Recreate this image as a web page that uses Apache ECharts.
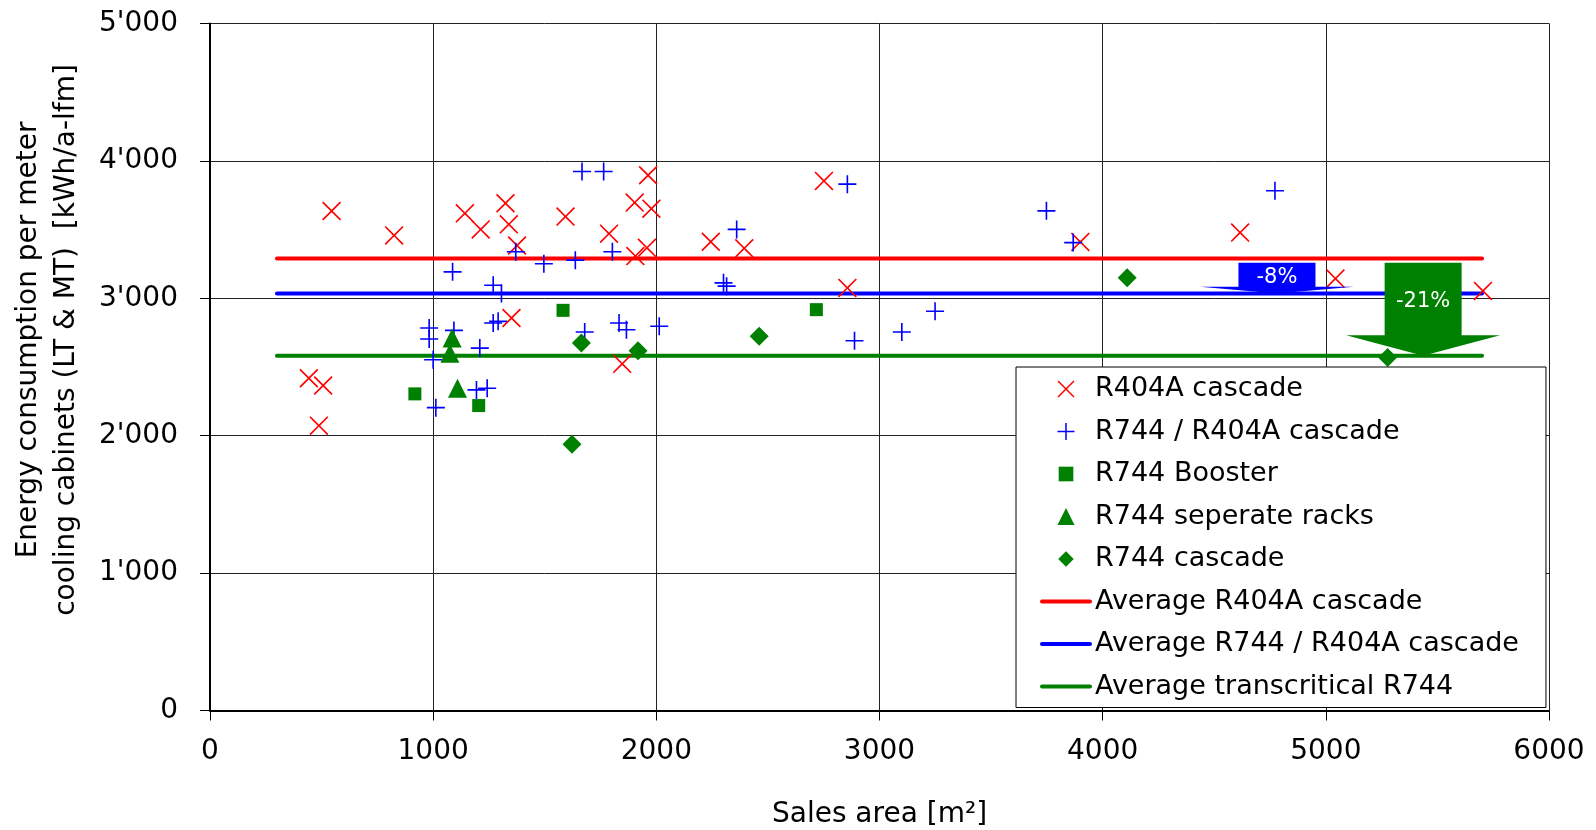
<!DOCTYPE html>
<html>
<head>
<meta charset="utf-8">
<script src="https://cdn.jsdelivr.net/npm/echarts@6/dist/echarts.min.js"></script>
<style>
  html, body { margin: 0; padding: 0; background: #fff; }
  #chart { width: 1596px; height: 830px; }
</style>
</head>
<body>
<div id="chart"></div>
<script>
// sales area [m2], energy [kWh/a-lfm]
const r404aCascade = [
  [545, 3635], [825, 3457], [1142, 3618], [1213, 3501], [1324, 3691], [1339, 3538],
  [1376, 3384], [1593, 3594], [1788, 3470], [1903, 3696], [1963, 3895], [1978, 3652],
  [1906, 3307], [1958, 3367], [1351, 2856], [443, 2418], [507, 2365], [488, 2073],
  [1847, 2523], [2244, 3411], [2394, 3363], [2751, 3854], [2856, 3075], [3900, 3410],
  [4616, 3478], [5043, 3143], [5704, 3053]
];
const r744R404aCascade = [
  [1667, 3922], [1764, 3922], [1370, 3338], [1496, 3251], [1637, 3277], [1803, 3338],
  [1087, 3192], [1269, 3095], [1306, 3034], [982, 2783], [982, 2703], [1093, 2766],
  [1000, 2552], [1209, 2637], [1012, 2204], [1194, 2333], [1242, 2345], [1269, 2820],
  [1291, 2832], [1679, 2754], [1833, 2820], [1866, 2771], [2856, 3830], [2360, 3501],
  [2301, 3112], [2315, 3088], [2013, 2796], [2888, 2691], [3100, 2754], [3249, 2905],
  [3748, 3636], [3868, 3405], [4772, 3782]
];
const r744Booster = [[918, 2304], [1204, 2219], [1582, 2912], [2717, 2917]];
const r744SeparateRacks = [[1085, 2710], [1075, 2600], [1109, 2345]];
const r744Cascade = [[1664, 2674], [1918, 2618], [1622, 1937], [2461, 2723], [4110, 3150], [5277, 2568]];

const avgNames = ["Average R404A cascade", "Average R744 / R404A cascade", "Average transcritical R744"];
const avgValues = [3290, 3034, 2582];
const avgRange = [300, 5700];

const arrowX = [4781, 5436];
const arrowFrom = [3259, 3259];
const arrowTo = [avgValues[1], avgValues[2]];
const arrowLabels = ["-8%", "-21%"];

const FONT = "DejaVu Sans";
const crossPath = "path://M9.35,-10.65L10.65,-9.35L1.3,0L10.65,9.35L9.35,10.65L0,1.3L-9.35,10.65L-10.65,9.35L-1.3,0L-10.65,-9.35L-9.35,-10.65L0,-1.3Z";
const plusPath = "path://M-0.9,-10L0.9,-10L0.9,-0.9L10,-0.9L10,0.9L0.9,0.9L0.9,10L-0.9,10L-0.9,0.9L-10,0.9L-10,-0.9L-0.9,-0.9Z";
const squarePath = "path://M0,0L10,0L10,10L0,10Z";
const trianglePath = "path://M5,0L10,10L0,10Z";
const diamondPath = "path://M5,0L10,5L5,10L0,5Z";
const avgColors = ["#ff0000", "#0000ff", "#008000"];
const arrowColors = ["#0000ff", "#008000"];

const chart = echarts.init(document.getElementById("chart"));

function scatter(name, data, symbol, size, color) {
  return {
    name: name,
    type: "scatter",
    data: data,
    symbol: symbol,
    symbolSize: size,
    symbolKeepAspect: true,
    itemStyle: { color: color, opacity: 1 },
    z: 3
  };
}

const avgSeries = avgNames.map(function (name, i) {
  return {
    name: name,
    type: "line",
    data: avgRange.map(function (x) { return [x, avgValues[i]]; }),
    symbol: "none",
    lineStyle: { color: avgColors[i], width: 4, cap: "round" },
    itemStyle: { color: avgColors[i] },
    z: 2
  };
});

const arrowSeries = {
  type: "custom",
  name: "arrows",
  coordinateSystem: "cartesian2d",
  z: 4,
  data: arrowX.map(function (x, i) { return [x, arrowFrom[i], arrowTo[i], i]; }),
  renderItem: function (params, api) {
    const i = api.value(3);
    const top = api.coord([api.value(0), api.value(1)]);
    const tip = api.coord([api.value(0), api.value(2)]);
    const neck = top[1] + (tip[1] - top[1]) * 0.78;
    const cx = top[0], hw = 38.5, hh = 77;
    return {
      type: "group",
      children: [
        {
          type: "polygon",
          shape: { points: [[cx - hw, top[1]], [cx + hw, top[1]], [cx + hw, neck], [cx + hh, neck],
                            [cx, tip[1]], [cx - hh, neck], [cx - hw, neck]] },
          style: { fill: arrowColors[i] }
        },
        {
          type: "text",
          x: cx,
          y: (top[1] + neck) / 2 + 3,
          style: { text: arrowLabels[i], fill: "#fff", fontFamily: FONT, fontSize: 21, align: "center", verticalAlign: "middle" }
        }
      ]
    };
  }
};

const legendData = [
  { name: "R404A cascade", icon: crossPath },
  { name: "R744 / R404A cascade", icon: plusPath },
  { name: "R744 Booster", icon: "path://M-0.8,-0.8M10.8,10.8M0,0L10,0L10,10L0,10Z" },
  { name: "R744 seperate racks", icon: trianglePath },
  { name: "R744 cascade", icon: "path://M-0.5,-0.5M10.5,10.5M5,0L10,5L5,10L0,5Z" }
].concat(avgNames.map(function (name) {
  return { name: name, itemStyle: { opacity: 0 }, lineStyle: { width: 4, cap: "round" } };
}));

const option = {
  animation: false,
  backgroundColor: "#fff",
  grid: { left: 210, right: 47, top: 23.4, bottom: 119.5, containLabel: false, outerBoundsMode: "none" },
  legend: {
    orient: "vertical",
    left: 1016,
    top: 367,
    padding: [7, 27, 6, 24],
    itemWidth: 48,
    itemHeight: 17,
    itemGap: 12.5,
    symbolKeepAspect: true,
    backgroundColor: "#fff",
    borderColor: "#000",
    borderWidth: 1,
    borderRadius: 0,
    textStyle: { fontFamily: FONT, fontSize: 27, color: "#000", lineHeight: 30 },
    data: legendData
  },
  xAxis: {
    type: "value",
    min: 0,
    max: 6000,
    interval: 1000,
    name: "Sales area [m²]",
    nameLocation: "middle",
    nameGap: 90,
    nameTextStyle: { fontFamily: FONT, fontSize: 28, color: "#000" },
    axisLine: { show: true, onZero: false, lineStyle: { color: "#000", width: 2 } },
    axisTick: { show: true, length: 10, lineStyle: { color: "#000" } },
    axisLabel: {
      fontFamily: FONT, fontSize: 28, color: "#000", margin: 27,
      formatter: function (v) { return String(v); }
    },
    splitLine: { show: true, lineStyle: { color: "#222", width: 1 } }
  },
  yAxis: {
    type: "value",
    min: 0,
    max: 5000,
    interval: 1000,
    name: "Energy consumption per meter\ncooling cabinets (LT & MT)  [kWh/a-lfm]",
    nameLocation: "middle",
    nameGap: 125,
    nameTextStyle: { fontFamily: FONT, fontSize: 28, color: "#000", lineHeight: 37.5, padding: [0, 0, 0, 54] },
    axisLine: { show: true, onZero: false, lineStyle: { color: "#000", width: 2 } },
    axisTick: { show: true, length: 10, lineStyle: { color: "#000" } },
    axisLabel: {
      fontFamily: FONT, fontSize: 28, color: "#000", margin: 32,
      formatter: function (v) { return String(v).replace(/\B(?=(\d{3})+(?!\d))/g, "'"); }
    },
    splitLine: { show: true, lineStyle: { color: "#222", width: 1 } }
  },
  series: avgSeries.concat([
    scatter("R404A cascade", r404aCascade, crossPath, 19, "#ff0000"),
    scatter("R744 / R404A cascade", r744R404aCascade, plusPath, 18, "#0000ff"),
    scatter("R744 Booster", r744Booster, squarePath, 13, "#008000"),
    scatter("R744 seperate racks", r744SeparateRacks, trianglePath, 19, "#008000"),
    scatter("R744 cascade", r744Cascade, diamondPath, 19, "#008000"),
    arrowSeries
  ])
};

chart.setOption(option);
</script>
</body>
</html>
